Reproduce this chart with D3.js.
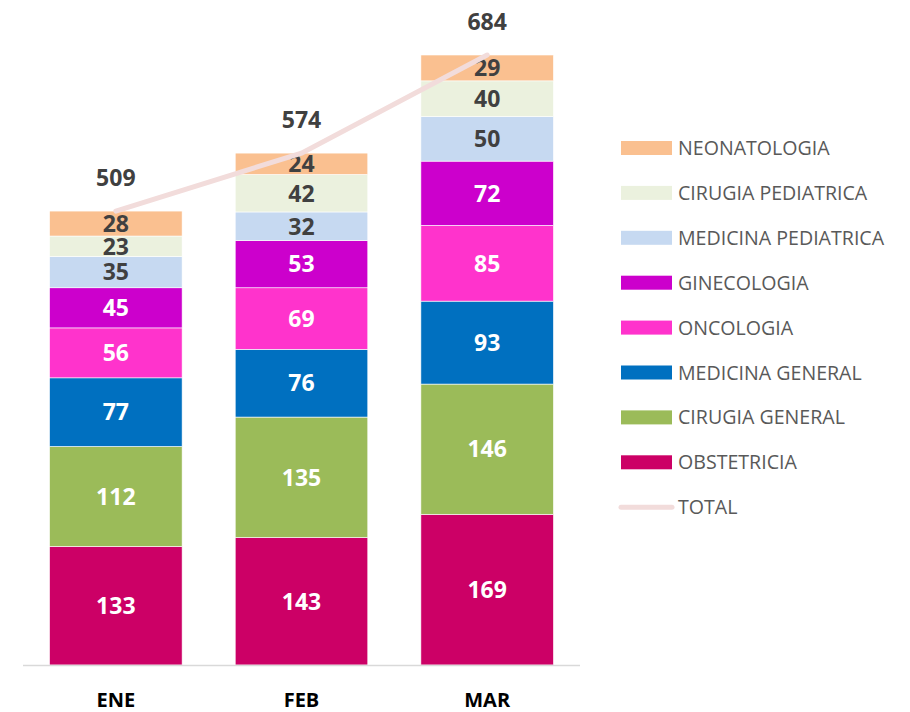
<!DOCTYPE html>
<html>
<head>
<meta charset="utf-8">
<script src="https://cdn.jsdelivr.net/npm/d3@7/dist/d3.min.js"></script>
<style>
  html, body { margin: 0; padding: 0; background: #fff; }
  svg { display: block; }
</style>
</head>
<body>
<svg id="chart" width="910" height="712"></svg>
<script>
const months = ["ENE", "FEB", "MAR"];
const seriesNames = ["OBSTETRICIA", "CIRUGIA GENERAL", "MEDICINA GENERAL", "ONCOLOGIA",
  "GINECOLOGIA", "MEDICINA PEDIATRICA", "CIRUGIA PEDIATRICA", "NEONATOLOGIA"];
const obstetricia = [133, 143, 169];
const cirugiaGeneral = [112, 135, 146];
const medicinaGeneral = [77, 76, 93];
const oncologia = [56, 69, 85];
const ginecologia = [45, 53, 72];
const medicinaPediatrica = [35, 32, 50];
const cirugiaPediatrica = [23, 42, 40];
const neonatologia = [28, 24, 29];
const totals = [509, 574, 684];
const colors = ["#cc0066", "#9bbb59", "#0070c0", "#ff33cc", "#cc00cc", "#c6d9f1", "#ebf1de", "#fac090"];
const labelColors = ["#fff", "#fff", "#fff", "#fff", "#fff", "#404040", "#404040", "#404040"];

const seriesValues = [obstetricia, cirugiaGeneral, medicinaGeneral, oncologia,
  ginecologia, medicinaPediatrica, cirugiaPediatrica, neonatologia];

const rows = months.map((m, i) => {
  const r = { month: m };
  seriesNames.forEach((s, k) => r[s] = seriesValues[k][i]);
  return r;
});

const svg = d3.select("#chart");
const font = "'Open Sans', 'DejaVu Sans', sans-serif";

const x = d3.scaleBand().domain(months).range([23, 580]).paddingInner(0.286).paddingOuter(0.143);
const y = d3.scaleLinear().domain([0, 684]).range([665, 55]);

const stacked = d3.stack().keys(seriesNames)(rows);

// bars
const layers = svg.append("g").selectAll("g").data(stacked).join("g")
  .attr("fill", (d, i) => colors[i]);
layers.selectAll("rect").data(d => d).join("rect")
  .attr("x", d => x(d.data.month))
  .attr("width", x.bandwidth())
  .attr("y", d => y(d[1]))
  .attr("height", d => y(d[0]) - y(d[1]))
  .attr("stroke", "#ffffff")
  .attr("stroke-width", 0.6);

// axis
const xAxis = svg.append("g").attr("transform", "translate(0,665)")
  .call(d3.axisBottom(x).tickSize(0).tickPadding(0));
xAxis.select(".domain").attr("stroke", "#d9d9d9").attr("stroke-width", 1.5)
  .attr("d", "M23,0.5H580");
xAxis.selectAll(".tick text")
  .attr("y", 35)
  .attr("dy", "0.36em")
  .style("font-family", font)
  .style("font-size", "20px")
  .style("font-weight", "bold")
  .attr("fill", "#000");

// total line
const line = d3.line().x((d, i) => x(months[i]) + x.bandwidth() / 2).y(d => y(d));
svg.append("path").datum(totals)
  .attr("d", line)
  .attr("fill", "none")
  .attr("stroke", "#f2dcdb")
  .attr("stroke-width", 5)
  .attr("stroke-linecap", "round");

// segment labels
layers.each(function(layer, i) {
  d3.select(this).selectAll("text").data(layer).join("text")
    .attr("x", d => x(d.data.month) + x.bandwidth() / 2)
    .attr("y", d => (y(d[0]) + y(d[1])) / 2)
    .attr("dy", "0.36em")
    .attr("text-anchor", "middle")
    .style("font-family", font)
    .style("font-size", "23px")
    .style("font-weight", "bold")
    .attr("fill", labelColors[i])
    .text(d => d[1] - d[0]);
});

// total labels
svg.append("g").selectAll("text").data(totals).join("text")
  .attr("x", (d, i) => x(months[i]) + x.bandwidth() / 2)
  .attr("y", d => y(d) - 33)
  .attr("dy", "0.36em")
  .attr("text-anchor", "middle")
  .style("font-family", font)
  .style("font-size", "23px")
  .style("font-weight", "bold")
  .attr("fill", "#404040")
  .text(d => d);

// legend
const legendItems = seriesNames.map((s, i) => ({ name: s, color: colors[i], type: "rect" })).reverse();
legendItems.push({ name: "TOTAL", color: "#f2dcdb", type: "line" });
const lg = svg.append("g").selectAll("g").data(legendItems).join("g")
  .attr("transform", (d, i) => `translate(621,${148 + i * 44.9})`);
lg.filter(d => d.type === "rect").append("rect")
  .attr("x", 0).attr("y", -7).attr("width", 51).attr("height", 14)
  .attr("fill", d => d.color);
lg.filter(d => d.type === "line").append("line")
  .attr("x1", 0).attr("x2", 51).attr("y1", 0).attr("y2", 0)
  .attr("stroke", d => d.color).attr("stroke-width", 5).attr("stroke-linecap", "round");
lg.append("text")
  .attr("x", 57).attr("y", 0).attr("dy", "0.36em")
  .style("font-family", font)
  .style("font-size", "19.6px")
  .attr("fill", "#595959")
  .text(d => d.name);
</script>
</body>
</html>
